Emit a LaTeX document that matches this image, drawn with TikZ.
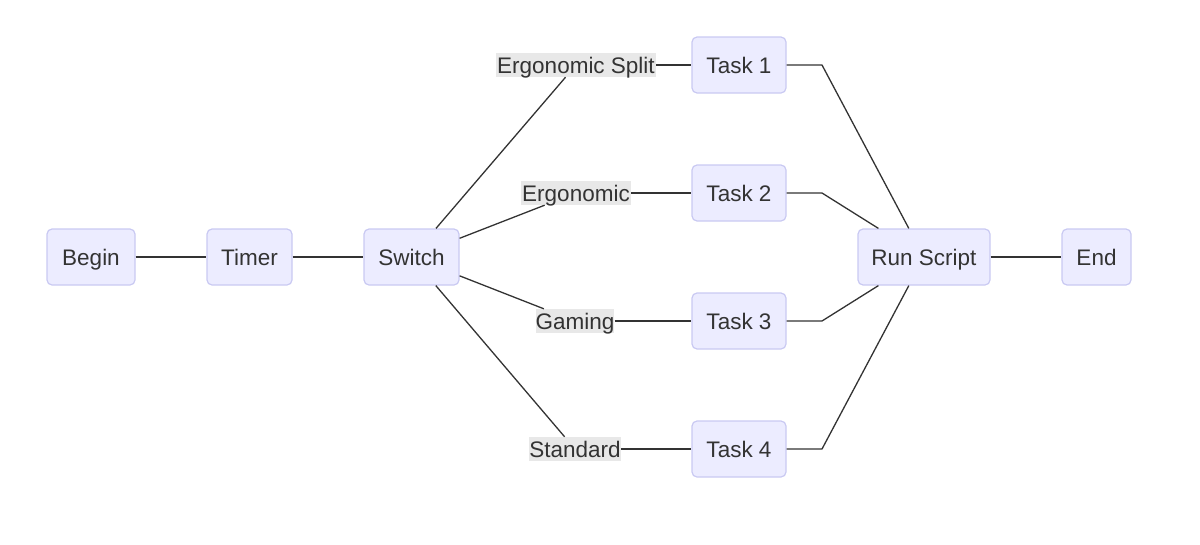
\documentclass[tikz,border=0pt]{standalone}
\usepackage{fontspec}
\setmainfont{Liberation Sans}
\definecolor{nodefill}{HTML}{ECECFF}
\definecolor{nodestroke}{HTML}{C9C9F2}
\definecolor{ink}{HTML}{333333}
\definecolor{labbg}{HTML}{E8E8E8}
\tikzset{
  box/.style={draw=nodestroke, fill=nodefill, line width=1.2pt, rounded corners=5pt,
    minimum height=56pt, inner sep=0pt, text height=16pt, text depth=0pt, text=ink,
    font=\fontsize{22.5}{27}\selectfont},
  lab/.style={fill=labbg, inner sep=0pt, minimum height=24pt, text height=16pt, text depth=0pt,
    text=ink, font=\fontsize{22.5}{27}\selectfont},
  edge/.style={draw=ink, line width=1.3pt}
}
\begin{document}
\begin{tikzpicture}[x=1pt,y=-1pt]
\useasboundingbox (0,0) rectangle (1200,544);
\node[box, minimum width=88pt] (begin) at (91,257) {Begin};
\node[box, minimum width=85pt] (timer) at (249.5,257) {Timer};
\node[box, minimum width=95pt] (switch) at (411.5,257) {Switch};
\node[box, minimum width=94pt] (t1) at (739,65) {Task 1};
\node[box, minimum width=94pt] (t2) at (739,193) {Task 2};
\node[box, minimum width=94pt] (t3) at (739,321) {Task 3};
\node[box, minimum width=94pt] (t4) at (739,449) {Task 4};
\node[box, minimum width=132pt] (run) at (924,257) {Run Script};
\node[box, minimum width=69pt] (end) at (1096.5,257) {End};

\node[lab, minimum width=160pt] (l1) at (576,65) {Ergonomic Split};
\node[lab, minimum width=110pt] (l2) at (576,193) {Ergonomic};
\node[lab, minimum width=78pt] (l3) at (575,321) {Gaming};
\node[lab, minimum width=92pt] (l4) at (575,449) {Standard};

\coordinate (b1) at (822,65);
\coordinate (b2) at (822,193);
\coordinate (b3) at (822,321);
\coordinate (b4) at (822,449);

\draw[edge] (begin) -- (timer);
\draw[edge] (timer) -- (switch);
\draw[edge] (switch) -- (l1);
\draw[edge] (switch) -- (l2);
\draw[edge] (switch) -- (l3);
\draw[edge] (switch) -- (l4);
\draw[edge] (l1) -- (t1);
\draw[edge] (l2) -- (t2);
\draw[edge] (l3) -- (t3);
\draw[edge] (l4) -- (t4);
\draw[edge] (t1) -- (b1) -- (run);
\draw[edge] (t2) -- (b2) -- (run);
\draw[edge] (t3) -- (b3) -- (run);
\draw[edge] (t4) -- (b4) -- (run);
\draw[edge] (run) -- (end);
\end{tikzpicture}
\end{document}
